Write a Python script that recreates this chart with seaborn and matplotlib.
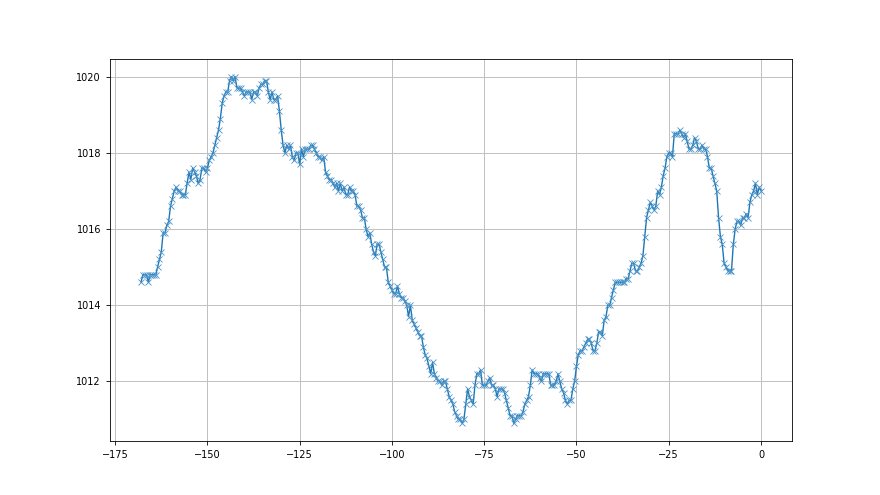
"""Pressure trace over the last week, half-hourly readings."""

import numpy as np
import pandas as pd
import matplotlib
matplotlib.use('Agg')
import matplotlib.pyplot as plt
import seaborn as sns

# half-hourly pressure readings (hPa), oldest first, from -168 h to 0 h
pressure = [
    1014.6, 1014.8, 1014.8, 1014.8, 1014.6, 1014.8, 1014.8, 1014.8, 1014.8, 1015.0,
    1015.2, 1015.4, 1015.9, 1015.9, 1016.1, 1016.2, 1016.6, 1016.8, 1017.0, 1017.1,
    1017.0, 1017.0, 1016.9, 1016.9, 1016.9, 1017.2, 1017.5, 1017.3, 1017.6, 1017.5,
    1017.4, 1017.2, 1017.3, 1017.6, 1017.6, 1017.5, 1017.6, 1017.8, 1017.9, 1018.0,
    1018.2, 1018.4, 1018.6, 1018.9, 1019.3, 1019.5, 1019.6, 1019.6, 1019.9, 1020.0,
    1019.9, 1020.0, 1019.7, 1019.7, 1019.7, 1019.6, 1019.5, 1019.6, 1019.6, 1019.6,
    1019.4, 1019.6, 1019.6, 1019.5, 1019.7, 1019.8, 1019.8, 1019.9, 1019.9, 1019.6,
    1019.4, 1019.6, 1019.4, 1019.4, 1019.5, 1019.1, 1018.6, 1018.2, 1018.0, 1018.2,
    1018.1, 1018.2, 1017.9, 1017.8, 1018.0, 1018.0, 1017.7, 1018.1, 1017.9, 1018.1,
    1018.1, 1018.1, 1018.2, 1018.2, 1018.1, 1018.0, 1017.9, 1017.9, 1017.8, 1017.9,
    1017.5, 1017.4, 1017.3, 1017.3, 1017.2, 1017.1, 1017.2, 1017.0, 1017.2, 1017.0,
    1017.1, 1016.9, 1016.9, 1017.1, 1017.0, 1017.0, 1016.9, 1016.6, 1016.6, 1016.5,
    1016.3, 1016.3, 1016.0, 1015.8, 1015.9, 1015.6, 1015.4, 1015.3, 1015.6, 1015.6,
    1015.4, 1015.2, 1015.0, 1015.0, 1014.6, 1014.5, 1014.4, 1014.3, 1014.3, 1014.5,
    1014.3, 1014.2, 1014.2, 1014.1, 1014.0, 1013.7, 1014.0, 1013.6, 1013.5, 1013.4,
    1013.3, 1013.2, 1013.2, 1012.9, 1012.7, 1012.6, 1012.4, 1012.2, 1012.5, 1012.2,
    1012.1, 1012.0, 1012.0, 1011.9, 1012.0, 1012.0, 1011.8, 1011.6, 1011.5, 1011.4,
    1011.2, 1011.1, 1011.0, 1011.0, 1010.9, 1011.0, 1011.4, 1011.8, 1011.6, 1011.5,
    1011.4, 1011.9, 1012.2, 1012.2, 1012.3, 1011.9, 1011.9, 1011.9, 1012.0, 1012.1,
    1011.9, 1011.9, 1011.8, 1011.6, 1011.8, 1011.8, 1011.8, 1011.7, 1011.5, 1011.3,
    1011.1, 1011.1, 1010.9, 1011.0, 1011.1, 1011.1, 1011.1, 1011.2, 1011.4, 1011.5,
    1011.6, 1011.9, 1012.3, 1012.2, 1012.2, 1012.2, 1012.1, 1012.0, 1012.2, 1012.2,
    1012.2, 1012.2, 1011.9, 1011.9, 1011.9, 1012.0, 1012.2, 1012.0, 1011.8, 1011.7,
    1011.5, 1011.4, 1011.5, 1011.5, 1011.8, 1012.0, 1012.4, 1012.7, 1012.8, 1012.8,
    1012.9, 1013.0, 1013.1, 1013.1, 1013.0, 1012.8, 1012.8, 1013.0, 1013.3, 1013.3,
    1013.2, 1013.6, 1013.7, 1014.0, 1014.0, 1014.2, 1014.4, 1014.6, 1014.6, 1014.6,
    1014.6, 1014.6, 1014.6, 1014.7, 1014.7, 1014.9, 1015.1, 1015.1, 1014.9, 1014.9,
    1015.0, 1015.1, 1015.3, 1015.8, 1016.3, 1016.5, 1016.7, 1016.6, 1016.5, 1016.6,
    1017.0, 1016.9, 1017.1, 1017.4, 1017.6, 1017.9, 1018.0, 1018.0, 1017.9, 1018.5,
    1018.5, 1018.5, 1018.6, 1018.5, 1018.4, 1018.5, 1018.3, 1018.1, 1018.1, 1018.2,
    1018.4, 1018.3, 1018.1, 1018.1, 1018.2, 1018.1, 1018.1, 1017.9, 1017.6, 1017.6,
    1017.4, 1017.2, 1017.0, 1016.3, 1015.8, 1015.6, 1015.1, 1015.0, 1014.9, 1014.9,
    1014.9, 1015.6, 1016.0, 1016.2, 1016.2, 1016.1, 1016.3, 1016.3, 1016.4, 1016.3,
    1016.7, 1016.9, 1017.0, 1017.2, 1016.9, 1017.1, 1017.0,
]

start_hour = -168
step_hours = 0.5
xticks = [-175, -150, -125, -100, -75, -50, -25, 0]
yticks = [1012, 1014, 1016, 1018, 1020]

hours = start_hour + step_hours * np.arange(len(pressure))
df = pd.DataFrame({'hour': hours, 'pressure': pressure})

sns.set_style('ticks')
plt.rcParams['font.family'] = ['DejaVu Sans']

fig, ax = plt.subplots(figsize=(8.8, 4.95), dpi=100)
fig.subplots_adjust(left=0.125, right=0.9, top=0.88, bottom=0.11)

sns.lineplot(data=df, x='hour', y='pressure', ax=ax, color='#1f77b4',
             linewidth=1.0, marker='x', markersize=4, markeredgewidth=0.6,
             markeredgecolor='#4a93c8')

ax.set_xticks(xticks)
ax.set_yticks(yticks)
ax.set_xlabel('')
ax.set_ylabel('')
ax.tick_params(labelsize=7, length=3, width=0.6, labelcolor='black', color='black')
ax.grid(True, color='#c0c0c0', linewidth=0.7)
for spine in ax.spines.values():
    spine.set_linewidth(0.6)
    spine.set_color('black')

fig.savefig('out.png', dpi=100)
